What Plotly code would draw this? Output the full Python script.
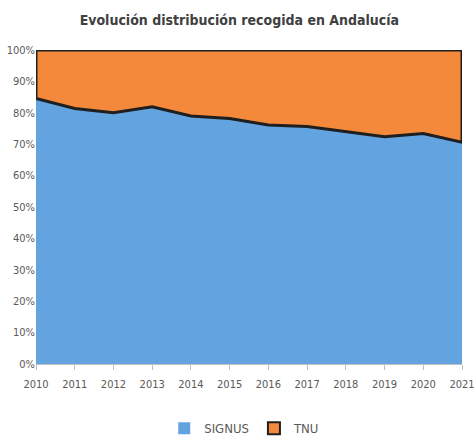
import plotly.graph_objects as go

years = [2010, 2011, 2012, 2013, 2014, 2015, 2016, 2017, 2018, 2019, 2020, 2021]
signus = [84.6, 81.4, 80.0, 81.9, 79.0, 78.2, 76.1, 75.6, 74.0, 72.4, 73.4, 70.6]
tnu = [100 - v for v in signus]

FONT = "Liberation Sans Narrow, DejaVu Sans Condensed, Arial Narrow, sans-serif"
BLUE = "#62A3E0"
ORANGE = "#F5893B"
EDGE = "#1F1F1F"

fig = go.Figure()

# SIGNUS share, filled down to zero
fig.add_trace(go.Scatter(
    x=years, y=signus, name="SIGNUS",
    mode="lines", fill="tozeroy",
    fillcolor=BLUE, line=dict(width=0, color=BLUE),
    showlegend=False, hoverinfo="skip"
))

# TNU share stacked on top, drawn as a closed band so the black border goes all round
top = [s + t for s, t in zip(signus, tnu)]
fig.add_trace(go.Scatter(
    x=years + years[::-1] + [years[0]],
    y=top + signus[::-1] + [top[0]],
    name="TNU", mode="lines", fill="toself",
    fillcolor=ORANGE, line=dict(width=3, color=EDGE),
    showlegend=False, hoverinfo="skip"
))

# legend-only entries so the swatches come out as squares
fig.add_trace(go.Bar(x=[None], y=[None], name="SIGNUS",
                     marker=dict(color=BLUE, line=dict(width=0))))
fig.add_trace(go.Bar(x=[None], y=[None], name="TNU",
                     marker=dict(color=ORANGE, line=dict(width=2, color=EDGE))))

fig.update_layout(
    width=474, height=437,
    margin=dict(l=36, r=12, t=50, b=73),
    paper_bgcolor="white", plot_bgcolor="white",
    font=dict(family=FONT, size=11, color="#595959"),
    title=dict(
        text="<b>Evolución distribución recogida en Andalucía</b>",
        x=0.505, xanchor="center", y=0.953, yanchor="middle",
        font=dict(family=FONT, size=14, color="#404040")
    ),
    legend=dict(
        orientation="h", x=0.49, xanchor="center",
        yref="container", y=0.02, yanchor="middle",
        font=dict(family=FONT, size=13, color="#595959"),
        itemwidth=30
    ),
    showlegend=True,
    xaxis=dict(
        range=[2010, 2021], tickmode="array", tickvals=years,
        ticks="outside", ticklen=5, tickcolor="#BFBFBF",
        showline=True, linecolor="#BFBFBF", showgrid=False, zeroline=False,
        automargin=False, ticklabeloverflow="allow", ticklabelstandoff=5
    ),
    yaxis=dict(
        range=[0, 100], dtick=10, ticksuffix="%",
        showgrid=False, zeroline=False, showline=False,
        automargin=False
    ),
)

# drop the browser's default page margin so the chart sits at the window edge
fig.write_html("out.html", config={"displayModeBar": False},
               post_script="document.body.style.margin='0';")
